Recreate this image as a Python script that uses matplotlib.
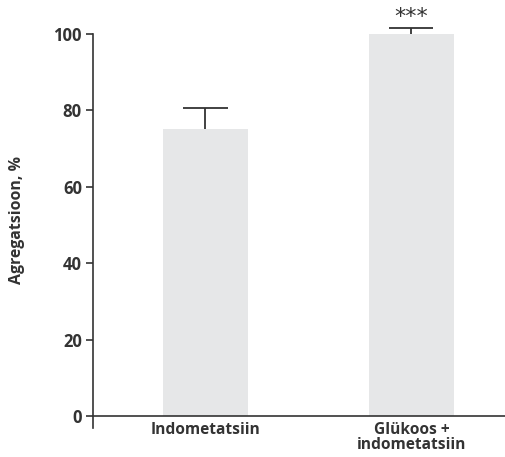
import matplotlib
matplotlib.use("Agg")
import matplotlib.pyplot as plt

categories = ["Indometatsiin", "Glükoos +\nindometatsiin"]
values = [75.2, 100.0]
errors = [5.4, 1.6]
yticks = [0, 20, 40, 60, 80, 100]
ylabel = "Agregatsioon, %"
signif = ["", "***"]

plt.rcParams['font.family'] = ['Open Sans', 'DejaVu Sans']
dark = "#333333"

fig = plt.figure(figsize=(5.06, 4.57), dpi=100)
ax = fig.add_axes([93/506, 1 - 428/457, 1 - 93/506, (428 - 34)/457])

x = list(range(len(categories)))
ax.bar(x, values, width=0.413, color="#e6e7e8", zorder=2)
capw = 0.107
for xi, v, e, s in zip(x, values, errors, signif):
    ax.vlines(xi, v, v + e, color=dark, lw=1.3, zorder=3, clip_on=False)
    ax.hlines(v + e, xi - capw, xi + capw, color=dark, lw=1.3, zorder=3, clip_on=False)
    if s:
        ax.text(xi, v + e + 0.2, s, ha="center", va="bottom",
                fontsize=16, color=dark, family="DejaVu Sans", clip_on=False)

ax.set_xlim(-0.546, 1.459)
ax.set_ylim(-3.14, 100)
ax.axhline(0, color=dark, lw=1.2, zorder=4, clip_on=False)
ax.spines['top'].set_visible(False)
ax.spines['right'].set_visible(False)
ax.spines['bottom'].set_visible(False)
ax.spines['left'].set_color(dark)
ax.spines['left'].set_linewidth(1.2)

ax.set_yticks(yticks)
ax.set_yticklabels([str(t) for t in yticks], fontsize=12, fontweight="bold", color=dark)
ax.tick_params(axis='y', length=5, width=1.2, color=dark, pad=3)
ax.set_xticks(x)
ax.set_xticklabels(categories, fontsize=11.2, fontweight="bold", color=dark,
                   linespacing=0.9)
ax.tick_params(axis='x', length=0, pad=-4)

fig.text(17/506, 1 - 220/457, ylabel, rotation=90, ha="center", va="center",
         fontsize=11.4, fontweight="bold", color=dark)

fig.savefig("out.png", dpi=100)
